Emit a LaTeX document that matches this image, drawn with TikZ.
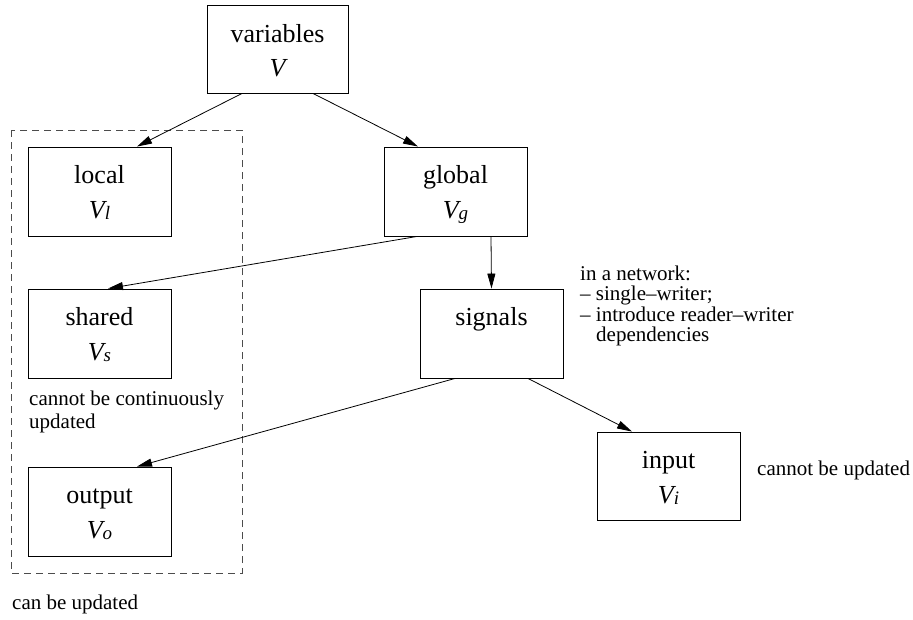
\documentclass[tikz,border=0pt]{standalone}
\usepackage{fontspec}
\setmainfont{Liberation Serif}
\usetikzlibrary{arrows.meta}
\begin{document}
\begin{tikzpicture}[x=1pt,y=-1pt,
  box/.style={draw,line width=0.9pt,minimum width=143pt,minimum height=89pt,inner sep=0pt},
  lab/.style={anchor=base,inner sep=0pt,font=\fontsize{26}{26}\selectfont},
  note/.style={anchor=base west,inner sep=0pt,font=\fontsize{21}{21}\selectfont},
  arr/.style={line width=0.8pt,-{Triangle[length=15pt,width=8pt]}}]
\useasboundingbox (0,0) rectangle (913,619);
\newcommand{\sub}[1]{{\fontsize{19}{19}\selectfont\raisebox{-1pt}{#1}}}
% dashed group
\draw[black!70,line width=0.8pt,dash pattern=on 7pt off 5pt] (11,130) rectangle (242,573);
% boxes
\node[box,minimum width=141pt,minimum height=88pt] (var) at (277.5,49) {};
\node[box] (loc) at (99.5,191.5) {};
\node[box] (glob) at (455.5,191.5) {};
\node[box] (shr) at (99.5,333.5) {};
\node[box] (sig) at (491.5,333.5) {};
\node[box] (outp) at (99.5,511.5) {};
\node[box,minimum height=88pt] (inp) at (668.5,476) {};
% labels
\node[lab] (t1) at (277.5,42) {variables};
\node[lab] (t1b) at (277.5,76) {\itshape V};
\node[lab] (t2) at (99.5,183.5) {local};
\node[lab] (t2b) at (99.5,218) {\itshape V\sub{l}};
\node[lab] (t3) at (455.5,183.5) {global};
\node[lab] (t3b) at (455.5,218) {\itshape V\sub{g}};
\node[lab] (t4) at (99.5,325.5) {shared};
\node[lab] (t4b) at (99.5,360) {\itshape V\sub{s}};
\node[lab] (t5) at (491.5,325.5) {signals};
\node[lab] (t6) at (99.5,503.5) {output};
\node[lab] (t6b) at (99.5,538) {\itshape V\sub{o}};
\node[lab] (t7) at (668.5,468.5) {input};
\node[lab] (t7b) at (668.5,503) {\itshape V\sub{i}};
% notes
\node[note] (n1) at (580,280) {in a network:};
\node[note] (n2) at (580,300.5) {– single–writer;};
\node[note] (n3) at (580,321) {– introduce reader–writer};
\node[note] (n4) at (596,341.5) {dependencies};
\node[note] (n5) at (29,405) {cannot be continuously};
\node[note] (n6) at (29,428) {updated};
\node[note] (n7) at (12,609) {can be updated};
\node[note] (n8) at (757,475) {cannot be updated};
% connectors
\draw[arr] ([xshift=-35.5pt]var.south) -- ([xshift=37.5pt]loc.north);
\draw[arr] ([xshift=35.5pt]var.south) -- ([xshift=-37.5pt]glob.north);
\draw[arr] ([xshift=-38.5pt]glob.south) -- ([xshift=8.5pt]shr.north);
\draw[arr] ([xshift=35.5pt]glob.south) -- (sig.north);
\draw[arr] ([xshift=-36.5pt]sig.south) -- ([xshift=37.5pt]outp.north);
\draw[arr] ([xshift=36.5pt]sig.south) -- ([xshift=-36.5pt]inp.north);
\end{tikzpicture}
\end{document}
